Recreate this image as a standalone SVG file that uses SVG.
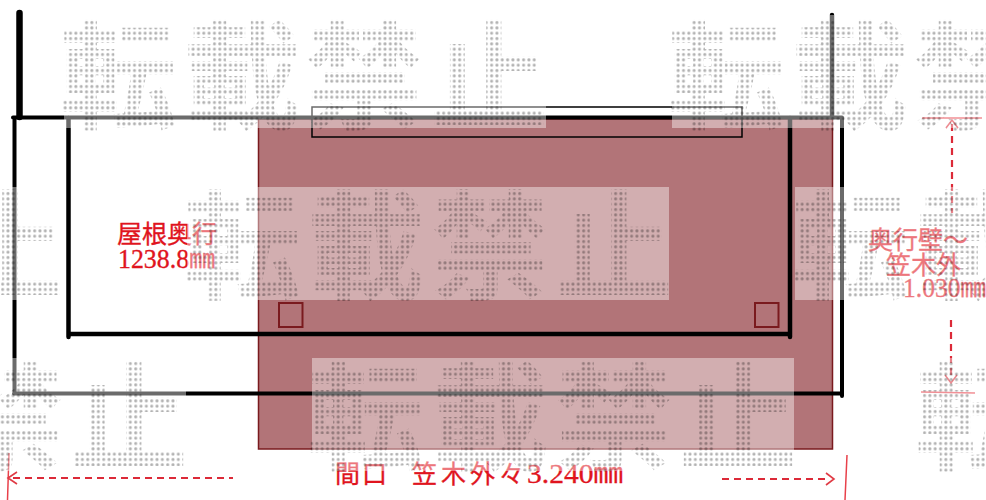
<svg xmlns="http://www.w3.org/2000/svg" width="986" height="500" viewBox="0 0 986 500">
<style>
.k{stroke:#000;fill:none;stroke-linecap:round}
.d{stroke:#dc2a38;stroke-width:2.200;stroke-dasharray:7 5;fill:none}
.t{stroke:#e8404a;stroke-width:1.500;fill:none}
.h{stroke:#e03a44;stroke-width:1.600;fill:none}
.r{font-family:"Liberation Serif","Noto Sans CJK JP",serif;fill:#e0141e;stroke:#e0141e;stroke-width:.35}
.b{fill:#fff;opacity:.42}
.w{font-family:"Noto Sans CJK JP",sans-serif;font-weight:700;font-size:118px}
</style>
<defs>
<pattern id="p1" patternUnits="userSpaceOnUse" x="62.600" y="20" width="5.330" height="5.330"><rect x="1.200" y="1.200" width="2.800" height="2.800" rx="1" fill="#000" fill-opacity=".3"/></pattern>
<pattern id="p2" patternUnits="userSpaceOnUse" x="186.600" y="191" width="5.330" height="5.330"><rect x="1.200" y="1.200" width="2.800" height="2.800" rx="1" fill="#000" fill-opacity=".3"/></pattern>
<pattern id="p3" patternUnits="userSpaceOnUse" x="314.300" y="361" width="5.330" height="5.330"><rect x="1.200" y="1.200" width="2.800" height="2.800" rx="1" fill="#000" fill-opacity=".3"/></pattern>
</defs>
<rect width="986" height="500" fill="#fff"/>
<g id="wall-plan">
<rect x="258.500" y="119" width="574" height="330" fill="#b27478" stroke="#7a1a1e" stroke-width="1.500"/>
<rect x="279" y="303" width="23.500" height="24" fill="none" stroke="#7a1a1e" stroke-width="2"/>
<rect x="755" y="303" width="23.500" height="24" fill="none" stroke="#7a1a1e" stroke-width="2"/>
</g>
<g id="connectors">
<path class="k" stroke-width="6.500" d="M19.500 13V117"/>
<path class="k" stroke-width="4" d="M13 117.500H842M14.500 118V393M14 393.500H841M842 118V396"/>
<path class="k" stroke-width="4.500" d="M68.500 118V337M68.500 334H790M790 118V337M832 15V117"/>
<rect x="312" y="107" width="430" height="30" fill="none" stroke="#000" stroke-width="1.500"/>
</g>
<g id="dimensions">
<path class="t" d="M9 453L7.500 500M847 455L845 500M922 118H982M921 392L975 393"/>
<path class="d" d="M13 478H233M722 479H826M952 124V213M951 320V378"/>
<path class="h" d="M17 472L8 478L17 484M826 473L834 479L826 485M946 128L952 120L958 128M945 375L951 383L957 375"/>
</g>
<g id="labels">
<text class="r" x="117" y="243" font-size="25" textLength="100">屋根奥行</text>
<text class="r" x="118" y="268" font-size="27" textLength="97" lengthAdjust="spacingAndGlyphs">1238.8㎜</text>
<text class="r" x="868" y="249" font-size="25" textLength="100">奥行壁～</text>
<text class="r" x="886" y="274" font-size="25" textLength="75">笠木外</text>
<text class="r" x="903" y="297" font-size="27" textLength="83" lengthAdjust="spacingAndGlyphs">1.030㎜</text>
<text class="r" y="483" font-size="25" x="335 362 412 441 470 499">間口笠木外々<tspan font-size="28" x="527" textLength="96" lengthAdjust="spacingAndGlyphs">3.240㎜</tspan></text>
</g>
<g id="watermark">
<rect class="b" x="64" y="15" width="482" height="113"/><rect class="b" x="672" y="15" width="482" height="113"/>
<rect class="b" x="-421" y="187" width="482" height="113"/><rect class="b" x="187" y="187" width="482" height="113"/><rect class="b" x="795" y="187" width="482" height="113"/>
<rect class="b" x="-296" y="358" width="482" height="113"/><rect class="b" x="312" y="358" width="482" height="113"/><rect class="b" x="920" y="358" width="482" height="113"/>
<text class="w" fill="url(#p1)" y="120" x="59 183 305 430 667 791 913 1038">転載禁止転載禁止</text>
<text class="w" fill="url(#p2)" y="290" x="-54 183 307 431 555 791 915">止転載禁止転載</text>
<text class="w" fill="url(#p3)" y="461" x="-54 70 307 431 555 679 915">禁止転載禁止転</text>
</g>
</svg>
